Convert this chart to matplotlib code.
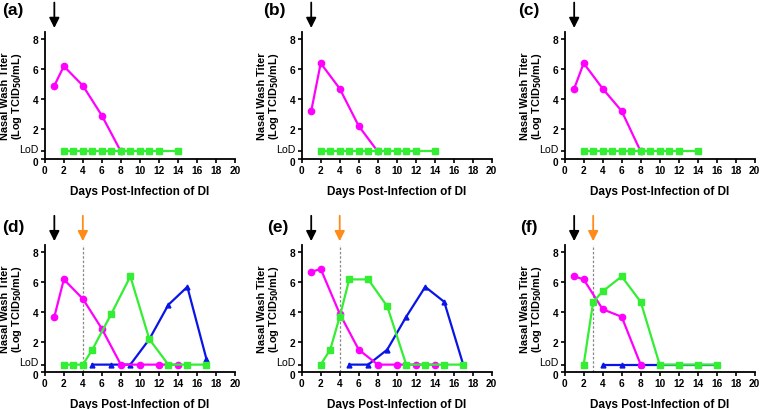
import matplotlib
matplotlib.use("Agg")
import matplotlib.pyplot as plt
import matplotlib.transforms as mtransforms

plt.rcParams['font.family'] = ['Liberation Sans', 'DejaVu Sans']

LOD = 0.5
panel_labels = ['(a)', '(b)', '(c)', '(d)', '(e)', '(f)']

# magenta (circle) series
mag_x = [
    [1, 2, 4, 6, 8],
    [1, 2, 4, 6, 8],
    [1, 2, 4, 6, 8],
    [1, 2, 4, 6, 8, 10, 12, 14],
    [1, 2, 4, 6, 8, 10, 12, 14],
    [1, 2, 4, 6, 8],
]
mag_y = [
    [4.9, 6.2, 4.9, 2.9, 0.5],
    [3.2, 6.4, 4.7, 2.2, 0.5],
    [4.7, 6.4, 4.7, 3.2, 0.5],
    [3.7, 6.2, 4.9, 2.9, 0.5, 0.5, 0.5, 0.5],
    [6.7, 6.9, 3.9, 1.5, 0.5, 0.5, 0.5, 0.5],
    [6.4, 6.2, 4.2, 3.7, 0.5],
]
# green (square) series
grn_x = [
    [2, 3, 4, 5, 6, 7, 8, 9, 10, 11, 12, 14],
    [2, 3, 4, 5, 6, 7, 8, 9, 10, 11, 12, 14],
    [2, 3, 4, 5, 6, 7, 8, 9, 10, 11, 12, 14],
    [2, 3, 4, 5, 7, 9, 11, 13, 15, 17],
    [2, 3, 4, 5, 7, 9, 11, 13, 15, 17],
    [2, 3, 4, 6, 8, 10, 12, 14, 16],
]
grn_y = [
    [0.5] * 12,
    [0.5] * 12,
    [0.5] * 12,
    [0.5, 0.5, 0.5, 1.5, 3.9, 6.4, 2.2, 0.5, 0.5, 0.5],
    [0.5, 1.5, 3.7, 6.2, 6.2, 4.4, 0.5, 0.5, 0.5, 0.5],
    [0.5, 4.7, 5.4, 6.4, 4.7, 0.5, 0.5, 0.5, 0.5],
]
# blue (triangle) series, bottom row only
blu_x = [None, None, None,
         [5, 7, 9, 11, 13, 15, 17],
         [5, 7, 9, 11, 13, 15, 17],
         [4, 6, 8, 10, 12, 14, 16]]
blu_y = [None, None, None,
         [0.5, 0.5, 0.5, 2.2, 4.5, 5.7, 0.9],
         [0.5, 0.5, 1.5, 3.7, 5.7, 4.7, 0.5],
         [0.5, 0.5, 0.5, 0.5, 0.5, 0.5, 0.5]]
# second infection day (orange arrow / dashed line)
second_inf = [None, None, None, 4, 4, 3]
first_inf = 1

xticks = list(range(0, 21, 2))
yticks = [0, LOD, 2, 4, 6, 8]
yticklabels = ['0', 'LoD', '2', '4', '6', '8']

MAG = '#ff00ff'
GRN = '#33ee33'
BLU = '#0a14e6'
ORG = '#ff8c1a'

fig = plt.figure(figsize=(7.6, 4.1), dpi=100)
lefts = [0.059, 0.397, 0.743]
bottoms = [0.61, 0.09]
W, H = 0.25, 0.31
label_x = [0.003, 0.346, 0.682, 0.003, 0.351, 0.684]
label_y = [0.957, 0.957, 0.957, 0.427, 0.427, 0.427]

head = '-|>,head_length=0.6,head_width=0.3'
up = mtransforms.ScaledTranslation(0, 2.5 / 72, fig.dpi_scale_trans)
down = mtransforms.ScaledTranslation(0, -1.5 / 72, fig.dpi_scale_trans)

for i in range(6):
    r, c = divmod(i, 3)
    ax = fig.add_axes([lefts[c], bottoms[r], W, H])
    ax.set_xlim(0, 20)
    ax.set_ylim(0, 8.5)
    for s in ['top', 'right']:
        ax.spines[s].set_visible(False)
    for s in ['left', 'bottom']:
        ax.spines[s].set_linewidth(1.3)
    ax.set_xticks(xticks)
    ax.set_yticks(yticks)
    ax.set_yticklabels(yticklabels)
    ax.tick_params(axis='both', length=3, width=1.2, labelsize=7.3, pad=1.5)
    for lbl in ax.get_xticklabels():
        lbl.set_fontweight('bold')
    for j, lbl in enumerate(ax.get_yticklabels()):
        if yticklabels[j] == 'LoD':
            lbl.set_fontweight('normal')
            lbl.set_fontsize(7.6)
            lbl.set_transform(lbl.get_transform() + up)
        elif yticklabels[j] == '0':
            lbl.set_fontweight('bold')
            lbl.set_transform(lbl.get_transform() + down)
        else:
            lbl.set_fontweight('bold')
    ax.set_xlabel('Days Post-Infection of DI', fontsize=8.5, fontweight='bold', labelpad=7)
    ax.set_ylabel('Nasal Wash Titer\n(Log TCID$_{\\mathbf{50}}$/mL)', fontsize=7.8, fontweight='bold',
                  linespacing=0.95)
    ax.yaxis.set_label_coords(-0.11, 0.5)

    if blu_x[i] is not None:
        ax.plot(blu_x[i], blu_y[i], color=BLU, lw=1.6, marker='^', ms=3.5, clip_on=False, zorder=3)
    ax.plot(mag_x[i], mag_y[i], color=MAG, lw=1.6, marker='o', ms=4.5, clip_on=False, zorder=4)
    ax.plot(grn_x[i], grn_y[i], color=GRN, lw=1.6, marker='s', ms=4.5, clip_on=False, zorder=5)

    trans = ax.get_xaxis_transform()
    ax.annotate('', xy=(first_inf, 1.03), xytext=(first_inf, 1.23), xycoords=trans,
                textcoords=trans, annotation_clip=False,
                arrowprops=dict(arrowstyle=head, color='black', lw=1.3, shrinkA=0, shrinkB=0))
    if second_inf[i] is not None:
        ax.annotate('', xy=(second_inf[i], 1.03), xytext=(second_inf[i], 1.23), xycoords=trans,
                    textcoords=trans, annotation_clip=False,
                    arrowprops=dict(arrowstyle=head, color=ORG, lw=1.3, shrinkA=0, shrinkB=0))
        ax.plot([second_inf[i], second_inf[i]], [0, 1.0], transform=trans, color='#888888',
                lw=0.9, ls=(0, (2, 1.5)), clip_on=False, zorder=1)

    fig.text(label_x[i], label_y[i], panel_labels[i],
             fontsize=12.5, fontweight='bold', va='bottom', ha='left')

fig.savefig('out.png', dpi=100)
